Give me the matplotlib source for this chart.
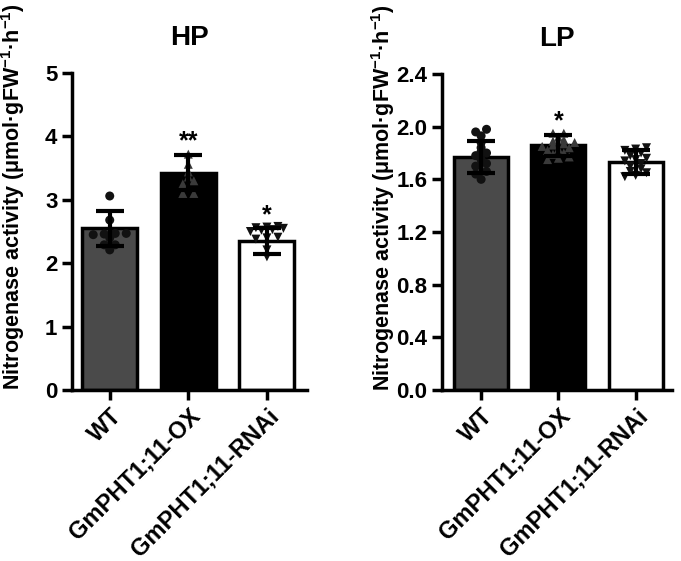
import numpy as np
import matplotlib
matplotlib.use('Agg')
import matplotlib.pyplot as plt

plt.rcParams['font.family'] = ['Liberation Sans', 'DejaVu Sans']
plt.rcParams['font.weight'] = 'bold'
plt.rcParams['mathtext.fontset'] = 'custom'
plt.rcParams['mathtext.bf'] = 'Liberation Sans:bold'
plt.rcParams['mathtext.rm'] = 'Liberation Sans:bold'
plt.rcParams['mathtext.default'] = 'bf'

# 组别
groups = ['WT', 'GmPHT1;11-OX', 'GmPHT1;11-RNAi']

# HP 数据
hp_mean = [2.55, 3.43, 2.35]
hp_sd = [0.28, 0.28, 0.20]
hp_wt = [3.06, 2.68, 2.47, 2.47, 2.46, 2.45, 2.40, 2.29, 2.29, 2.21]
hp_ox = [3.72, 3.56, 3.44, 3.36, 3.30, 3.25, 3.10, 3.10]
hp_rnai = [2.58, 2.57, 2.56, 2.55, 2.53, 2.52, 2.50, 2.41, 2.40, 2.38, 2.21, 2.10]
hp_sig = ['', '**', '*']

# LP 数据
lp_mean = [1.77, 1.86, 1.73]
lp_sd = [0.12, 0.08, 0.09]
lp_wt = [1.98, 1.96, 1.93, 1.88, 1.84, 1.81, 1.80, 1.78, 1.75, 1.72, 1.70, 1.66, 1.64, 1.60]
lp_ox = [1.95, 1.95, 1.92, 1.90, 1.89, 1.88, 1.87, 1.86, 1.85, 1.84, 1.83, 1.82, 1.80, 1.79,
         1.77, 1.76, 1.75]
lp_rnai = [1.84, 1.83, 1.82, 1.80, 1.78, 1.76, 1.75, 1.74, 1.72, 1.70, 1.68, 1.66, 1.65,
           1.63, 1.62]
lp_sig = ['', '*', '']

bar_colors = ['#4a4a4a', '#000000', '#ffffff']
markers = ['o', '^', 'v']
marker_colors = ['#111111', '#3a3a3a', '#111111']


def swarm_offsets(vals, width, tol):
    # 简单的蜂群散点：数值接近的点水平展开
    vals = np.asarray(vals)
    order = np.argsort(vals)
    offs = np.zeros(len(vals))
    grp = [order[0]]
    groups_idx = []
    for i in order[1:]:
        if vals[i] - vals[grp[0]] < tol:
            grp.append(i)
        else:
            groups_idx.append(grp)
            grp = [i]
    groups_idx.append(grp)
    for g in groups_idx:
        n = len(g)
        if n > 1:
            half = min(width, 0.07 * (n - 1))
            pos = np.linspace(-half, half, n)
            for k, i in enumerate(g):
                offs[i] = pos[k]
    return offs


def draw_panel(ax, means, sds, points, sig, title, ymax, step, fmt, tol, sig_gap, xlim):
    x = np.arange(len(groups))
    ax.bar(x, means, width=0.7, color=bar_colors, edgecolor='black', linewidth=2.5, zorder=1)
    for i, pts in enumerate(points):
        off = swarm_offsets(pts, 0.27, tol)
        ax.scatter(x[i] + off, pts, marker=markers[i], s=42, color=marker_colors[i],
                   edgecolors='none', zorder=2)
    ax.errorbar(x, means, yerr=sds, fmt='none', ecolor='black', elinewidth=3,
                capsize=10, capthick=3, zorder=3)
    for i, s in enumerate(sig):
        if s:
            ax.text(x[i], means[i] + sds[i] + sig_gap, s, ha='center', va='bottom',
                    fontsize=18, fontweight='bold')
    ax.set_xlim(*xlim)
    ax.set_ylim(0, ymax)
    ticks = np.arange(0, ymax + step / 2, step)
    ax.set_yticks(ticks)
    ax.set_yticklabels([fmt.format(v) for v in ticks])
    ax.set_xticks(x)
    ax.set_xticklabels(groups, rotation=45, ha='right', rotation_mode='anchor', fontsize=17)
    for side in ['top', 'right']:
        ax.spines[side].set_visible(False)
    for side in ['left', 'bottom']:
        ax.spines[side].set_linewidth(2.5)
    ax.tick_params(axis='both', width=2.5, length=7)
    ax.tick_params(axis='y', labelsize=16)
    ax.set_title(title, fontsize=20, fontweight='bold', pad=20)
    ax.set_ylabel(r'Nitrogenase activity (μmol·gFW$^{-1}$·h$^{-1}$)', fontsize=15.5,
                  fontweight='bold')


fig = plt.figure(figsize=(6.81, 5.61), dpi=100)
ax1 = fig.add_axes([72 / 681, 1 - 390 / 561, 235 / 681, 317 / 561])
ax2 = fig.add_axes([442 / 681, 1 - 390 / 561, 230 / 681, 316 / 561])

draw_panel(ax1, hp_mean, hp_sd, [hp_wt, hp_ox, hp_rnai], hp_sig, 'HP', 5, 1, '{:.0f}',
           0.05, 0.02, (-0.48, 2.51))
draw_panel(ax2, lp_mean, lp_sd, [lp_wt, lp_ox, lp_rnai], lp_sig, 'LP', 2.4, 0.4, '{:.1f}',
           0.03, 0.01, (-0.506, 2.47))
ax1.yaxis.set_label_coords(-45 / 235, 0.61)
ax2.yaxis.set_label_coords(-45 / 230, 0.61)

fig.savefig('out.png', dpi=100)
